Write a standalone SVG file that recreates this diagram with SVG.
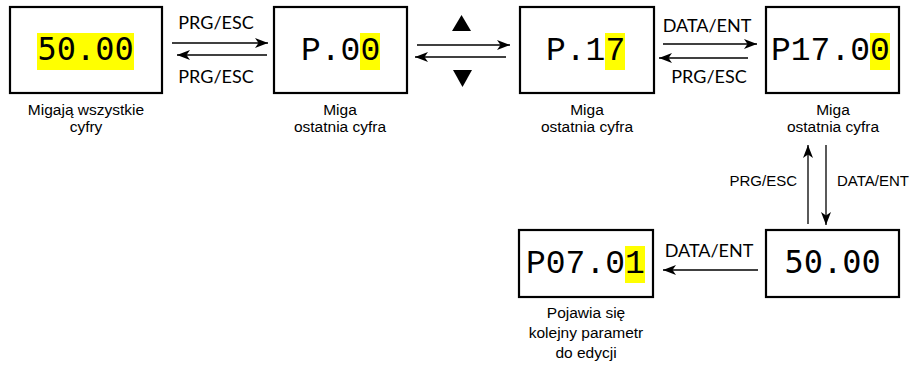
<svg xmlns="http://www.w3.org/2000/svg" width="912" height="365" viewBox="0 0 912 365">
<style>
.box{fill:#fff;stroke:#000;stroke-width:2.2}
.hl{fill:#ffff00}
.mono{font-family:"Liberation Mono","Courier New",monospace;font-size:33px;fill:#000}
.smono{font-family:"DejaVu Sans Mono",monospace;font-size:32px;fill:#000}
.cap{font-family:"Liberation Sans",Arial,sans-serif;font-size:15.5px;fill:#000;text-anchor:middle}
.lbl{font-family:Lato,"Open Sans",sans-serif;font-size:18px;fill:#000;text-anchor:middle}
.vl{font-family:"Liberation Sans",Arial,sans-serif;font-size:15px;fill:#000}
.ar{stroke:#000;stroke-width:1.3;fill:none;marker-end:url(#ah)}
</style>
<defs>
<marker id="ah" markerUnits="userSpaceOnUse" markerWidth="14" markerHeight="11" refX="13" refY="5" orient="auto" viewBox="0 0 14 10">
<path d="M0,0 L13,5 L0,10 L3.5,5 Z" fill="#000"/>
</marker>
</defs>
<rect width="912" height="365" fill="#fff"/>
<g id="n1">
<rect class="box" x="10" y="7" width="152" height="86"/>
<rect class="hl" x="37" y="33" width="97" height="37"/>
<text class="smono" x="37.5" y="60">50.00</text>
<text class="cap" x="86" y="115">Migają wszystkie</text>
<text class="cap" x="86" y="132">cyfry</text>
</g>
<g id="n2">
<rect class="box" x="274" y="7" width="133" height="86"/>
<rect class="hl" x="360" y="33" width="20" height="37"/>
<text class="mono" x="301" y="60">P.00</text>
<text class="cap" x="340" y="115">Miga</text>
<text class="cap" x="340" y="132">ostatnia cyfra</text>
</g>
<g id="n3">
<rect class="box" x="520" y="7" width="134" height="86"/>
<rect class="hl" x="605" y="33" width="20" height="37"/>
<text class="mono" x="546" y="60">P.17</text>
<text class="cap" x="587" y="115">Miga</text>
<text class="cap" x="587" y="132">ostatnia cyfra</text>
</g>
<g id="n4">
<rect class="box" x="766" y="7" width="133" height="86"/>
<rect class="hl" x="870" y="33" width="20" height="37"/>
<text class="mono" x="771" y="60">P17.00</text>
<text class="cap" x="833" y="115">Miga</text>
<text class="cap" x="833" y="132">ostatnia cyfra</text>
</g>
<g id="n5">
<rect class="box" x="766" y="230" width="133" height="67"/>
<text class="smono" x="784.5" y="273">50.00</text>
</g>
<g id="n6">
<rect class="box" x="519" y="230" width="134" height="67"/>
<rect class="hl" x="625" y="246" width="20" height="37"/>
<text class="mono" x="526" y="273">P07.01</text>
<text class="cap" x="586" y="318">Pojawia się</text>
<text class="cap" x="586" y="338">kolejny parametr</text>
<text class="cap" x="586" y="358">do edycji</text>
</g>
<g id="connectors">
<line class="ar" x1="172" y1="43" x2="268" y2="43"/>
<line class="ar" x1="267" y1="55" x2="177" y2="55"/>
<line class="ar" x1="417" y1="45" x2="510" y2="45"/>
<line class="ar" x1="506" y1="57" x2="415" y2="57"/>
<line class="ar" x1="663" y1="44" x2="757" y2="44"/>
<line class="ar" x1="748" y1="58" x2="659" y2="58"/>
<line class="ar" x1="808" y1="224" x2="808" y2="145"/>
<line class="ar" x1="826" y1="145" x2="826" y2="225"/>
<line class="ar" x1="758" y1="270" x2="663" y2="270"/>
<polygon points="452,31 471,31 461.5,15" fill="#000"/>
<polygon points="453,70 472,70 462.5,87" fill="#000"/>
<text class="lbl" x="216" y="29">PRG/ESC</text>
<text class="lbl" x="216" y="83">PRG/ESC</text>
<text class="lbl" x="707" y="32">DATA/ENT</text>
<text class="lbl" x="709" y="83">PRG/ESC</text>
<text class="lbl" x="709" y="257">DATA/ENT</text>
<text class="vl" x="797" y="186" text-anchor="end">PRG/ESC</text>
<text class="vl" x="837" y="186">DATA/ENT</text>
</g>
</svg>
